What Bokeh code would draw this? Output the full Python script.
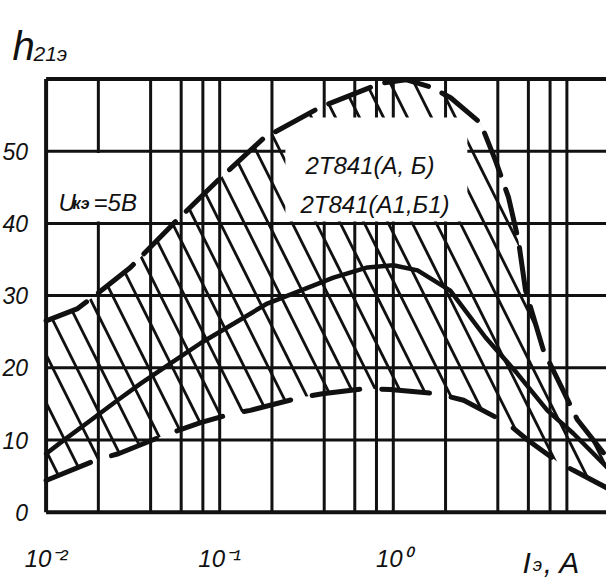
from bokeh.plotting import figure
from bokeh.models import FixedTicker, Label
from bokeh.embed import file_html
from bokeh.resources import INLINE

# ---- data ----
# upper (max) dashed boundary
upper_x = [0.01, 0.0152, 0.0198, 0.0306, 0.0543, 0.0971, 0.179, 0.381, 0.844, 1.18, 1.64,
           2.14, 3.18, 3.88, 4.61, 5.26, 5.78, 7.33, 9.19, 11.5, 16.9]
upper_h = [26.5, 28.2, 30.3, 33.9, 40.0, 45.9, 51.8, 56.1, 59.4, 59.9, 58.9,
           57.4, 53.9, 48.7, 43.6, 37.6, 30.7, 22.4, 17.6, 12.8, 7.7]
# typical (solid) curve
typ_x = [0.01, 0.0126, 0.018, 0.0258, 0.035, 0.0521, 0.0775, 0.12, 0.188, 0.292, 0.452,
         0.71, 1.0, 1.38, 2.13, 3.40, 5.18, 7.71, 10.9, 16.9]
typ_h = [8.1, 9.95, 12.7, 15.5, 17.8, 20.6, 23.4, 26.1, 28.9, 30.7, 32.5,
         33.9, 34.2, 33.5, 30.7, 24.2, 19.2, 14.1, 10.9, 6.3]
# lower (min) dashed boundary
lower_x = [0.01, 0.0193, 0.0261, 0.0474, 0.0776, 0.12, 0.15, 0.292, 0.391, 0.673, 0.96,
           1.8, 2.54, 4.55, 5.94, 8.95, 10.9, 16.9]
lower_h = [4.4, 7.2, 8.1, 10.6, 12.4, 13.7, 14.1, 15.9, 16.4, 17.1, 17.0,
           16.4, 15.5, 12.3, 10.0, 6.9, 5.8, 3.4]

x_tick_values = [0.01, 0.1, 1]
x_tick_labels = ["10\u207b\u00b2", "10\u207b\u00b9", "10\u2070"]
x_grid_values = [0.02, 0.04, 0.06, 0.08, 0.1, 0.2, 0.4, 0.6, 0.8, 1, 2, 4, 6, 8, 10]
y_tick_values = [0, 10, 20, 30, 40, 50]
y_grid_values = [10, 20, 30, 40, 50]

X_MIN, X_MAX = 0.01, 16.91      # plotted current range, A
Y_MIN, Y_MAX = 0, 60            # plotted h21e range

FONT = "Liberation Sans"
INK = "#111111"

# the frame covers the whole canvas so that titles outside the grid box stay visible
p = figure(width=606, height=578, x_axis_type="log",
           x_range=(0.005462, X_MAX), y_range=(-9.18, 70.87),
           output_backend="svg", toolbar_location=None, min_border=0)
p.outline_line_color = None
p.background_fill_color = "white"
p.border_fill_color = "white"
p.xgrid.visible = False
p.ygrid.visible = False

# axes pinned to the grid box edges
p.xaxis.fixed_location = Y_MIN
p.yaxis.fixed_location = X_MIN
for ax in (p.xaxis, p.yaxis):
    ax.major_tick_line_color = None
    ax.minor_tick_line_color = None
    ax.axis_line_color = None
    ax.major_label_text_font = FONT
    ax.major_label_text_font_style = "italic"
    ax.major_label_text_color = INK

p.xaxis.ticker = FixedTicker(ticks=x_tick_values)
p.xaxis.major_label_overrides = dict(zip(x_tick_values, x_tick_labels))
p.xaxis.major_label_text_font_size = "24px"
p.xaxis.major_label_standoff = 27

p.yaxis.ticker = FixedTicker(ticks=y_tick_values)
p.yaxis.major_label_text_font_size = "23px"
p.yaxis.major_label_standoff = 12

# grid lines of the paper
n_v = len(x_grid_values)
p.segment(x0=x_grid_values, y0=[Y_MIN] * n_v, x1=x_grid_values, y1=[Y_MAX] * n_v,
          line_color=INK, line_width=3)
n_h = len(y_grid_values)
p.segment(x0=[X_MIN] * n_h, y0=y_grid_values, x1=[X_MAX] * n_h, y1=y_grid_values,
          line_color=INK, line_width=3)

# hatched spread region between min and max
band_x = upper_x + lower_x[::-1]
band_h = upper_h + lower_h[::-1]
p.patch(band_x, band_h, fill_alpha=0, line_color=None,
        hatch_pattern="\\", hatch_color=INK, hatch_weight=2.8, hatch_scale=48)

# white label backgrounds
p.quad(left=[0.239], right=[2.67], bottom=[40.25], top=[54.65],
       fill_color="white", line_color=None)
p.quad(left=[0.0103], right=[0.039], bottom=[40.25], top=[49.75],
       fill_color="white", line_color=None)

# box border: top, bottom, left
p.segment(x0=[X_MIN, X_MIN, X_MIN], y0=[Y_MAX, Y_MIN, Y_MIN],
          x1=[X_MAX, X_MAX, X_MIN], y1=[Y_MAX, Y_MIN, Y_MAX],
          line_color=INK, line_width=4)

# curves
p.line(upper_x, upper_h, line_color=INK, line_width=5, line_dash="45 15", line_cap="round")
p.line(lower_x, lower_h, line_color=INK, line_width=5, line_dash="48 22", line_cap="round")
p.line(typ_x, typ_h, line_color=INK, line_width=4.5, line_cap="round")

def lab(x, y, text, size, style="italic"):
    p.add_layout(Label(x=x, y=y, text=text, text_font=FONT, text_font_size=size,
                       text_font_style=style, text_color=INK, text_baseline="alphabetic",
                       text_align="left"))

# device labels
lab(0.312, 48.0, "2Т841(А, Б)", "24px")
lab(0.292, 42.6, "2Т841(А1,Б1)", "24px")
# condition
lab(0.01179, 42.9, "U", "24px")
lab(0.01420, 42.8, "кэ", "16px", "bold italic")
lab(0.01876, 42.9, "=5В", "24px")
# y axis title
lab(0.0064, 64.6, "h", "40px")
lab(0.00846, 63.5, "21э", "21px")
# x axis title
lab(5.55, -6.9, "I", "30px")
lab(6.35, -7.3, "э", "19px")
lab(7.35, -6.9, ", A", "30px")

open("out.html", "w").write(file_html(p, INLINE))
